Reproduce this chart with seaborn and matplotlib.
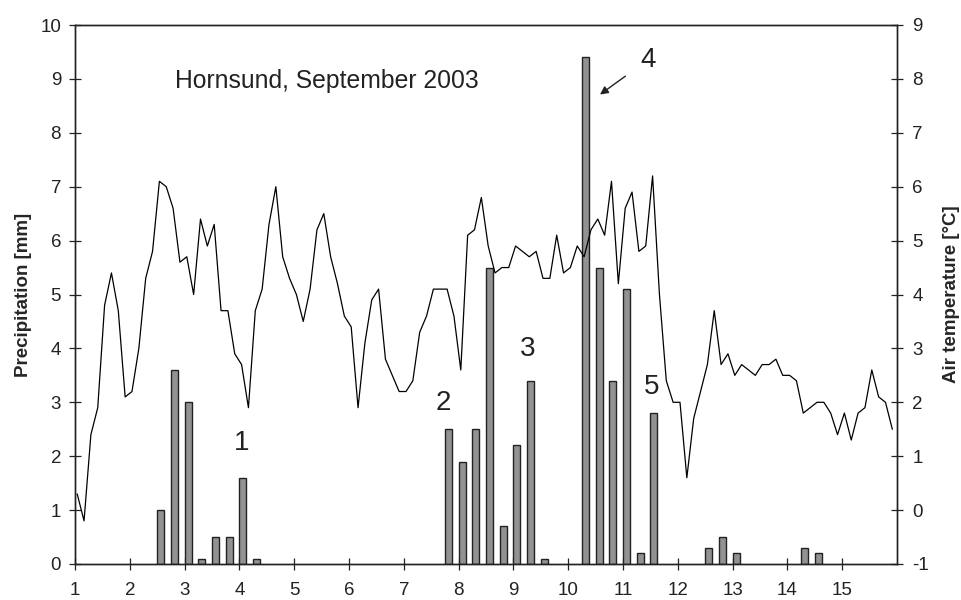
import numpy as np
import pandas as pd
import matplotlib
matplotlib.use("Agg")
import matplotlib.pyplot as plt
import seaborn as sns

# Precipitation totals per 6-hour period (day of month, mm); periods without rain omitted
precip_day = [2.5, 2.75, 3.0, 3.25, 3.5, 3.75, 4.0, 4.25,
              7.75, 8.0, 8.25, 8.5, 8.75, 9.0, 9.25, 9.5,
              10.25, 10.5, 10.75, 11.0, 11.25, 11.5,
              12.5, 12.75, 13.0, 14.25, 14.5]
precip_mm = [1.0, 3.6, 3.0, 0.1, 0.5, 0.5, 1.6, 0.1,
             2.5, 1.9, 2.5, 5.5, 0.7, 2.2, 3.4, 0.1,
             9.4, 5.5, 3.4, 5.1, 0.2, 2.8,
             0.3, 0.5, 0.2, 0.3, 0.2]

# Air temperature, 3-hourly observations (deg C)
temp_start_day = 1.04
temp_step_day = 0.125
air_temp = [0.3, -0.2, 1.4, 1.9, 3.8, 4.4, 3.7, 2.1, 2.2, 3.0,
            4.3, 4.8, 6.1, 6.0, 5.6, 4.6, 4.7, 4.0, 5.4, 4.9,
            5.3, 3.7, 3.7, 2.9, 2.7, 1.9, 3.7, 4.1, 5.3, 6.0,
            4.7, 4.3, 4.0, 3.5, 4.1, 5.2, 5.5, 4.7, 4.2, 3.6,
            3.4, 1.9,
            3.1, 3.9, 4.1, 2.8, 2.5, 2.2, 2.2, 2.4, 3.3, 3.6,
            4.1, 4.1, 4.1, 3.6, 2.6, 5.1, 5.2, 5.8, 4.9, 4.4,
            4.5, 4.5, 4.9, 4.8, 4.7, 4.8, 4.3, 4.3, 5.1, 4.4,
            4.5, 4.9, 4.7, 5.2, 5.4, 5.1, 6.1, 4.2, 5.6, 5.9,
            4.8, 4.9,
            6.2, 4.0, 2.4, 2.0, 2.0, 0.6, 1.7, 2.2, 2.7, 3.7,
            2.7, 2.9, 2.5, 2.7, 2.6, 2.5, 2.7, 2.7, 2.8, 2.5,
            2.5, 2.4, 1.8, 1.9, 2.0, 2.0, 1.8, 1.4, 1.8, 1.3,
            1.8, 1.9, 2.6, 2.1, 2.0, 1.5]

x_ticks = list(range(1, 16))
precip_ticks = list(range(0, 11))
temp_ticks = list(range(-1, 10))

# Event labels: (text, day, mm)
event_labels = [("1", 4.04, 2.25), ("2", 7.73, 2.98), ("3", 9.26, 3.99),
                ("5", 11.52, 3.28)]

temp_df = pd.DataFrame({
    "day": temp_start_day + temp_step_day * np.arange(len(air_temp)),
    "temp": air_temp,
})

sns.set_theme(style="white")
plt.rcParams["font.family"] = ["Liberation Sans", "DejaVu Sans"]
plt.rcParams["text.color"] = "#222222"
plt.rcParams["axes.unicode_minus"] = False

fig = plt.figure(figsize=(9.62, 6.0), dpi=100)
ax = fig.add_axes([75 / 962, 36 / 600, 822 / 962, 539 / 600])
ax2 = ax.twinx()

edge = "#222222"
ax.bar(precip_day, precip_mm, width=0.128, align="edge",
       color="#929292", edgecolor=edge, linewidth=1.0, zorder=2)

sns.lineplot(data=temp_df, x="day", y="temp", ax=ax2, color="black",
             linewidth=0.9, zorder=3)

ax.set_xlim(1, 16)
ax.set_ylim(0, 10)
ax2.set_ylim(-1, 9)
ax.set_xticks(x_ticks)
ax.set_yticks(precip_ticks)
ax2.set_yticks(temp_ticks)

for a in (ax, ax2):
    for s in a.spines.values():
        s.set_color(edge)
        s.set_linewidth(1.0)
    a.grid(False)

ax.tick_params(axis="x", direction="inout", length=8, width=0.9, color=edge,
               labelsize=13.5, pad=9, labelcolor="#222222", bottom=True)
ax.tick_params(axis="y", direction="inout", length=8, width=0.9, color=edge,
               labelsize=13.5, pad=6, labelcolor="#222222", left=True)
ax2.tick_params(axis="y", direction="inout", length=8, width=0.9, color=edge,
                labelsize=13.5, pad=7, labelcolor="#222222", right=True)

ax.set_xlabel("")
ax2.set_xlabel("")
ax.set_ylabel("Precipitation [mm]", fontsize=13.5, fontweight="bold", labelpad=6)
ax2.set_ylabel("Air temperature [°C]", fontsize=13.5, fontweight="bold", labelpad=10)

ax.text(2.83, 8.97, "Hornsund, September 2003", fontsize=17.8, ha="left",
        va="center")

for label, d, v in event_labels:
    ax.text(d, v, label, fontsize=20, ha="center", va="center")

ax.annotate("4", xy=(10.58, 8.71), xytext=(11.45, 9.35), fontsize=20,
            ha="center", va="center",
            arrowprops=dict(arrowstyle="-|>", color=edge, lw=1.0,
                            shrinkA=10, shrinkB=0, mutation_scale=12))

fig.savefig("out.png", dpi=100)
